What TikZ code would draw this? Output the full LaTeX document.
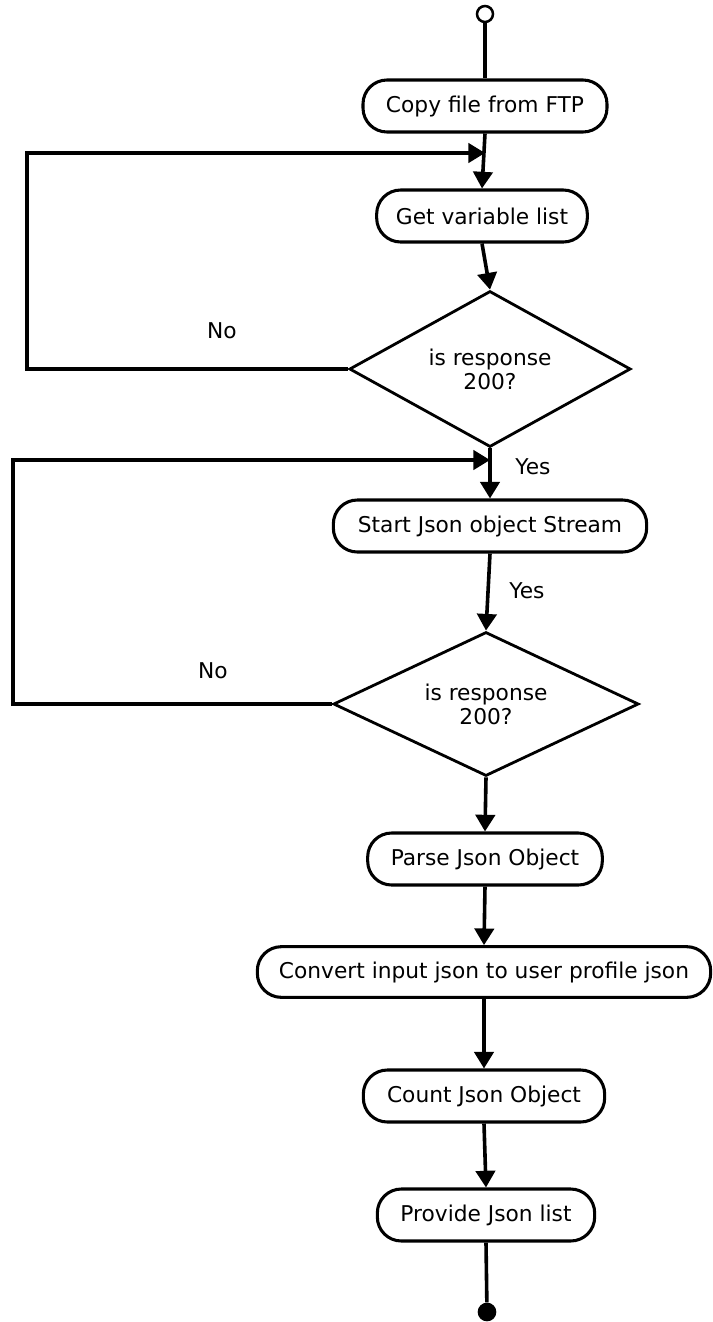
\documentclass[tikz,border=0pt]{standalone}
\usepackage{fontspec}
\setmainfont{DejaVu Sans}
\usetikzlibrary{arrows.meta,shapes.geometric}
\begin{document}
\begin{tikzpicture}[x=0.75pt,y=-0.75pt,
  every node/.style={font=\fontsize{16.3}{18}\selectfont},
  stepbox/.style={draw,line width=2.3pt,rectangle,rounded corners=18pt,
    inner sep=0pt,fill=white},
  decision/.style={draw,line width=2.1pt,diamond,aspect=2.4,inner sep=0pt,
    align=center,fill=white},
  flow/.style={line width=2.7pt},
  arr/.style={flow,-{Triangle[length=12.5pt,width=14.5pt]}},
  lbl/.style={inner sep=0pt}]
\useasboundingbox (0,0) rectangle (713,1322);

% terminal points
\node[draw,circle,line width=1.9pt,minimum size=12pt,inner sep=0pt] (s) at (485,14) {};
\node[fill,circle,minimum size=14pt,inner sep=0pt] (e) at (487,1312) {};

% activity steps
\node[stepbox,minimum width=183pt,minimum height=39pt] (copy)  at (485,106)  {Copy file from FTP};
\node[stepbox,minimum width=158pt,minimum height=39pt] (get)   at (482,216)  {Get variable list};
\node[stepbox,minimum width=235pt,minimum height=39pt] (start) at (490,526)  {Start Json object Stream};
\node[stepbox,minimum width=176pt,minimum height=39pt] (parse) at (485,859)  {Parse Json Object};
\node[stepbox,minimum width=340pt,minimum height=38pt] (conv)  at (484,972)  {Convert input json to user profile json};
\node[stepbox,minimum width=181pt,minimum height=39pt] (count) at (484,1096) {Count Json Object};
\node[stepbox,minimum width=163pt,minimum height=39pt] (prov)  at (486,1215) {Provide Json list};

% decisions
\node[decision,minimum width=211pt,minimum height=117pt] (d1) at (490,369) {is response\\200?};
\node[decision,minimum width=229pt,minimum height=108pt] (d2) at (486,704) {is response\\200?};

% loop-back corners and merge points
\coordinate (lp1) at (27,153);
\coordinate (m1) at (copy.south |- lp1);
\coordinate (lp2) at (13,460);
\coordinate (m2) at (d1.south |- lp2);

% main flow
\draw[flow] (s) -- (copy);
\draw[arr] (copy.south) -- (get.north);
\draw[arr] (get.south) -- (d1.north);
\draw[arr] (d1.south) -- (start.north);
\draw[arr] (start.south) -- (d2.north);
\draw[arr] (d2.south) -- (parse.north);
\draw[arr] (parse.south) -- (conv.north);
\draw[arr] (conv.south) -- (count.north);
\draw[arr] (count.south) -- (prov.north);
\draw[flow] (prov.south) -- (e);

% retry loops
\draw[arr] (d1.west) -| (lp1) -- (m1);
\draw[arr] (d2.west) -| (lp2) -- (m2);

% branch labels
\node[lbl] (no1)  at (222,331) {No};
\node[lbl] (no2)  at (213,671) {No};
\node[lbl] (yes1) at (533,467) {Yes};
\node[lbl] (yes2) at (527,591) {Yes};
\end{tikzpicture}
\end{document}
